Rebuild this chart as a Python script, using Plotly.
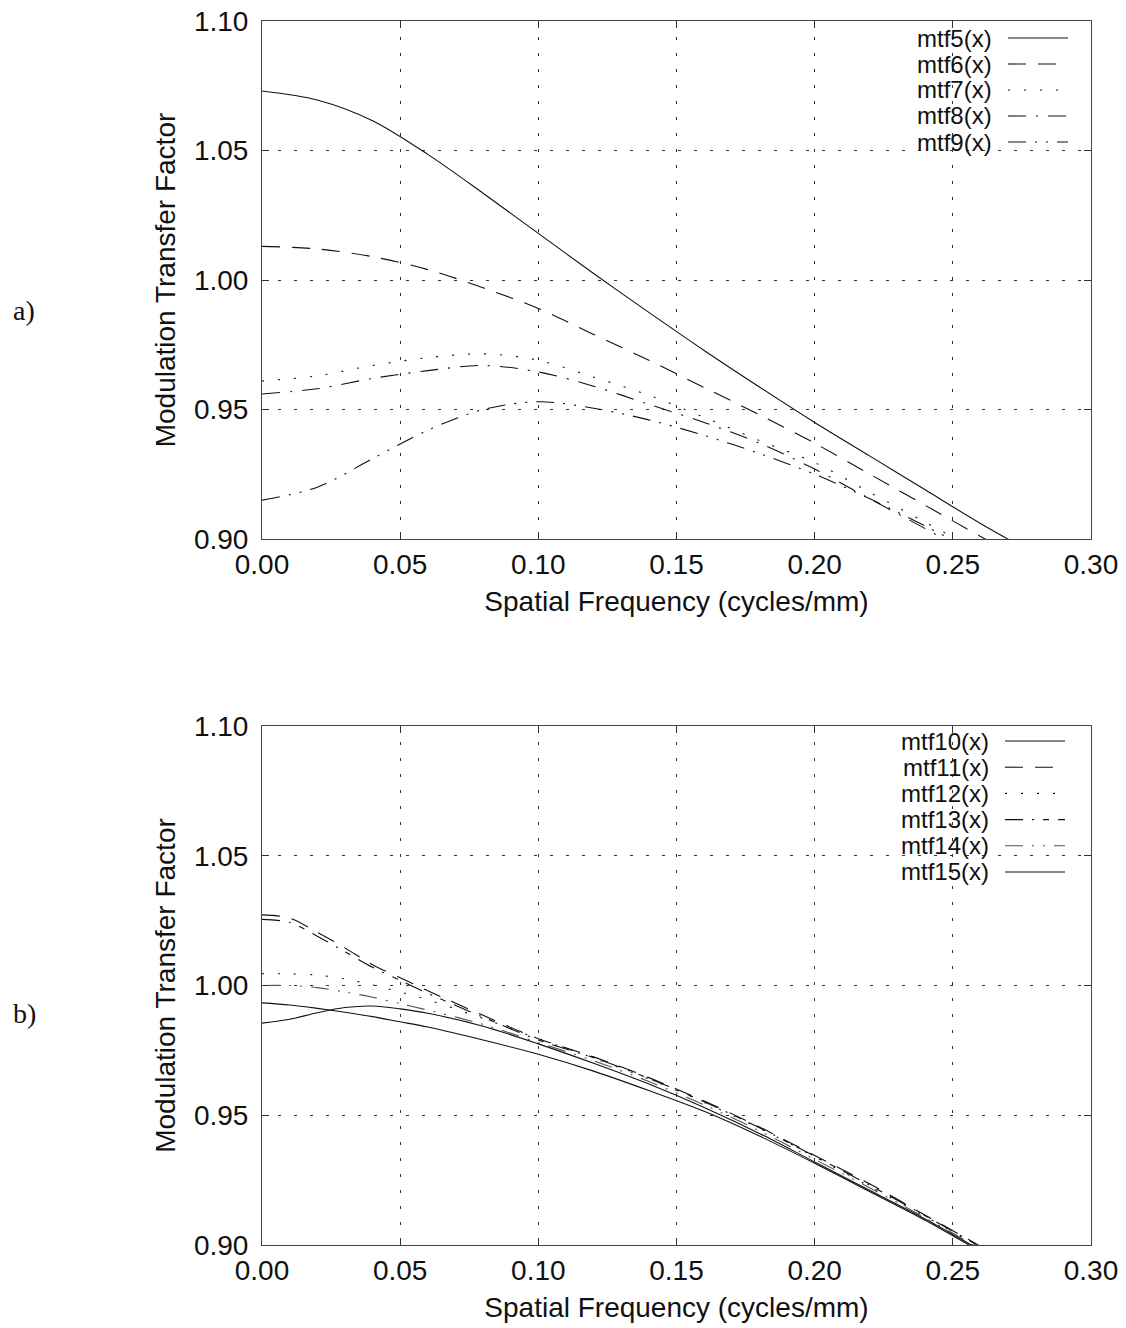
import plotly.graph_objects as go

W, H = 1126, 1328

# ---- panel a) ----
FREQ_A = [0.00, 0.02, 0.04, 0.06, 0.08, 0.10, 0.12, 0.14, 0.16, 0.18, 0.20, 0.22, 0.24, 0.26, 0.28]
MTF5 = [1.073, 1.0695, 1.0615, 1.0485, 1.0335, 1.018, 1.0025, 0.9875, 0.9728, 0.9587, 0.945, 0.932, 0.919, 0.906, 0.894]
MTF6 = [1.013, 1.012, 1.009, 1.004, 0.997, 0.989, 0.979, 0.969, 0.9585, 0.948, 0.937, 0.925, 0.913, 0.901, 0.889]
MTF7 = [0.961, 0.963, 0.967, 0.970, 0.9715, 0.969, 0.9625, 0.9555, 0.947, 0.938, 0.9295, 0.918, 0.9065, 0.895, 0.883]
MTF8 = [0.956, 0.958, 0.962, 0.965, 0.967, 0.9645, 0.959, 0.952, 0.945, 0.937, 0.927, 0.9155, 0.904, 0.892, 0.880]
MTF9 = [0.915, 0.920, 0.931, 0.942, 0.950, 0.953, 0.9505, 0.946, 0.940, 0.933, 0.925, 0.9155, 0.905, 0.894, 0.882]

# ---- panel b) ----
FREQ_B = [0.00, 0.01, 0.02, 0.03, 0.04, 0.05, 0.06, 0.08, 0.10, 0.12, 0.14, 0.16, 0.18, 0.20, 0.22, 0.24, 0.26, 0.28]
MTF10 = [0.9933, 0.9925, 0.9912, 0.9897, 0.9880, 0.9860, 0.9840, 0.9790, 0.9735, 0.9670, 0.9595, 0.9515, 0.9420, 0.9315, 0.9205, 0.9095, 0.8975, 0.8860]
MTF11 = [1.0272, 1.0260, 1.0205, 1.0145, 1.0080, 1.0030, 0.9980, 0.9885, 0.9795, 0.9725, 0.9645, 0.9555, 0.9455, 0.9345, 0.9235, 0.9115, 0.8995, 0.8875]
MTF12 = [1.0045, 1.0045, 1.0040, 1.0025, 1.0002, 0.9975, 0.9945, 0.9873, 0.9795, 0.9720, 0.9640, 0.9550, 0.9450, 0.9340, 0.9225, 0.9110, 0.8990, 0.8870]
MTF13 = [1.0255, 1.0243, 1.0190, 1.0130, 1.0070, 1.0020, 0.9970, 0.9878, 0.9790, 0.9722, 0.9642, 0.9552, 0.9452, 0.9342, 0.9230, 0.9113, 0.8993, 0.8873]
MTF14 = [1.0000, 1.0000, 0.9992, 0.9975, 0.9955, 0.9930, 0.9905, 0.9850, 0.9780, 0.9710, 0.9630, 0.9540, 0.9440, 0.9330, 0.9220, 0.9105, 0.8985, 0.8865]
MTF15 = [0.9855, 0.9870, 0.9895, 0.9915, 0.9921, 0.9910, 0.9893, 0.9843, 0.9775, 0.9700, 0.9620, 0.9530, 0.9430, 0.9320, 0.9210, 0.9100, 0.8980, 0.8860]

X_TICKS = [0.00, 0.05, 0.10, 0.15, 0.20, 0.25, 0.30]
Y_TICKS = [0.90, 0.95, 1.00, 1.05, 1.10]

SOLID = "solid"
LDASH = "18px,12px"
DOT = "2px,14px"
DASHDOT = "18px,10px,2px,10px"
DASHDOT2 = "18px,9px,2px,9px,2px,9px"
DASHDOT3 = "18px,9px,2px,9px,6px,9px"

series_a = [
    ("mtf5(x)", MTF5, SOLID, "#111"),
    ("mtf6(x)", MTF6, LDASH, "#111"),
    ("mtf7(x)", MTF7, DOT, "#111"),
    ("mtf8(x)", MTF8, DASHDOT, "#111"),
    ("mtf9(x)", MTF9, DASHDOT2, "#111"),
]
series_b = [
    ("mtf10(x)", MTF10, SOLID, "#111"),
    ("mtf11(x)", MTF11, LDASH, "#111"),
    ("mtf12(x)", MTF12, DOT, "#111"),
    ("mtf13(x)", MTF13, DASHDOT3, "#111"),
    ("mtf14(x)", MTF14, DASHDOT2, "#555"),
    ("mtf15(x)", MTF15, SOLID, "#111"),
]

SANS = "Liberation Sans, Arial, Helvetica, sans-serif"
SERIF = "Liberation Serif, Times New Roman, serif"

fig = go.Figure()
for name, ys, dash, col in series_a:
    fig.add_trace(go.Scatter(x=FREQ_A, y=ys, mode="lines", name=name, xaxis="x", yaxis="y",
                             line=dict(color=col, width=1.1, dash=dash, shape="spline", smoothing=0.9),
                             showlegend=False))
for name, ys, dash, col in series_b:
    fig.add_trace(go.Scatter(x=FREQ_B, y=ys, mode="lines", name=name, xaxis="x2", yaxis="y2",
                             line=dict(color=col, width=1.1, dash=dash, shape="spline", smoothing=0.9),
                             showlegend=False))

def px_x(v):
    return v / W

def px_y(v):
    return 1 - v / H

X0, X1 = 262, 1091
A_TOP, A_BOT = 21, 539
B_TOP, B_BOT = 726, 1245

def xaxis(anchor):
    return dict(domain=[px_x(X0), px_x(X1)], range=[0.0, 0.30], anchor=anchor, automargin=False,
                tickvals=X_TICKS, tickformat=".2f", ticks="inside", ticklen=7, tickcolor="#333",
                showline=True, linecolor="#444", linewidth=1, mirror="ticks",
                showgrid=True, gridcolor="#333", gridwidth=1, griddash="3px,13px",
                zeroline=False, ticklabelstandoff=0,
                tickfont=dict(family=SANS, size=28, color="#111"),
                title=dict(text="Spatial Frequency (cycles/mm)", standoff=12,
                           font=dict(family=SANS, size=28, color="#111")))

def yaxis(anchor, top, bot):
    return dict(domain=[px_y(bot), px_y(top)], range=[0.90, 1.10], anchor=anchor, automargin=False,
                tickvals=Y_TICKS, tickformat=".2f", ticks="inside", ticklen=7, tickcolor="#333",
                showline=True, linecolor="#444", linewidth=1, mirror="ticks",
                showgrid=True, gridcolor="#333", gridwidth=1, griddash="3px,13px",
                zeroline=False, ticklabelstandoff=7,
                tickfont=dict(family=SANS, size=28, color="#111"),
                title=dict(text="Modulation Transfer Factor", standoff=10,
                           font=dict(family=SANS, size=28, color="#111")))

annotations = []
shapes = []

def add_key(entries, text_right, line_x0, line_x1, y_first, step):
    for i, (name, _, dash, col) in enumerate(entries):
        yc = y_first + i * step
        annotations.append(dict(x=px_x(text_right), y=px_y(yc), xref="paper", yref="paper",
                                text=name, showarrow=False, xanchor="right", yanchor="middle",
                                font=dict(family=SANS, size=24, color="#111")))
        shapes.append(dict(type="line", xref="paper", yref="paper",
                           x0=px_x(line_x0), x1=px_x(line_x1), y0=px_y(yc), y1=px_y(yc),
                           line=dict(color=col, width=1.1, dash=dash)))

add_key(series_a, 994, 1008, 1068, 38, 26)
add_key(series_b, 991, 1005, 1065, 741, 26.2)

annotations.append(dict(x=px_x(24), y=px_y(310), xref="paper", yref="paper", text="a)",
                        showarrow=False, xanchor="center", yanchor="middle",
                        font=dict(family=SERIF, size=28, color="#111")))
annotations.append(dict(x=px_x(24), y=px_y(1014), xref="paper", yref="paper", text="b)",
                        showarrow=False, xanchor="center", yanchor="middle",
                        font=dict(family=SERIF, size=28, color="#111")))

fig.update_layout(
    width=W, height=H,
    margin=dict(l=0, r=0, t=0, b=0, autoexpand=False),
    paper_bgcolor="white", plot_bgcolor="white",
    xaxis=xaxis("y"), yaxis=yaxis("x", A_TOP, A_BOT),
    xaxis2=xaxis("y2"), yaxis2=yaxis("x2", B_TOP, B_BOT),
    annotations=annotations, shapes=shapes,
    showlegend=False,
)

fig.write_html("out.html")
